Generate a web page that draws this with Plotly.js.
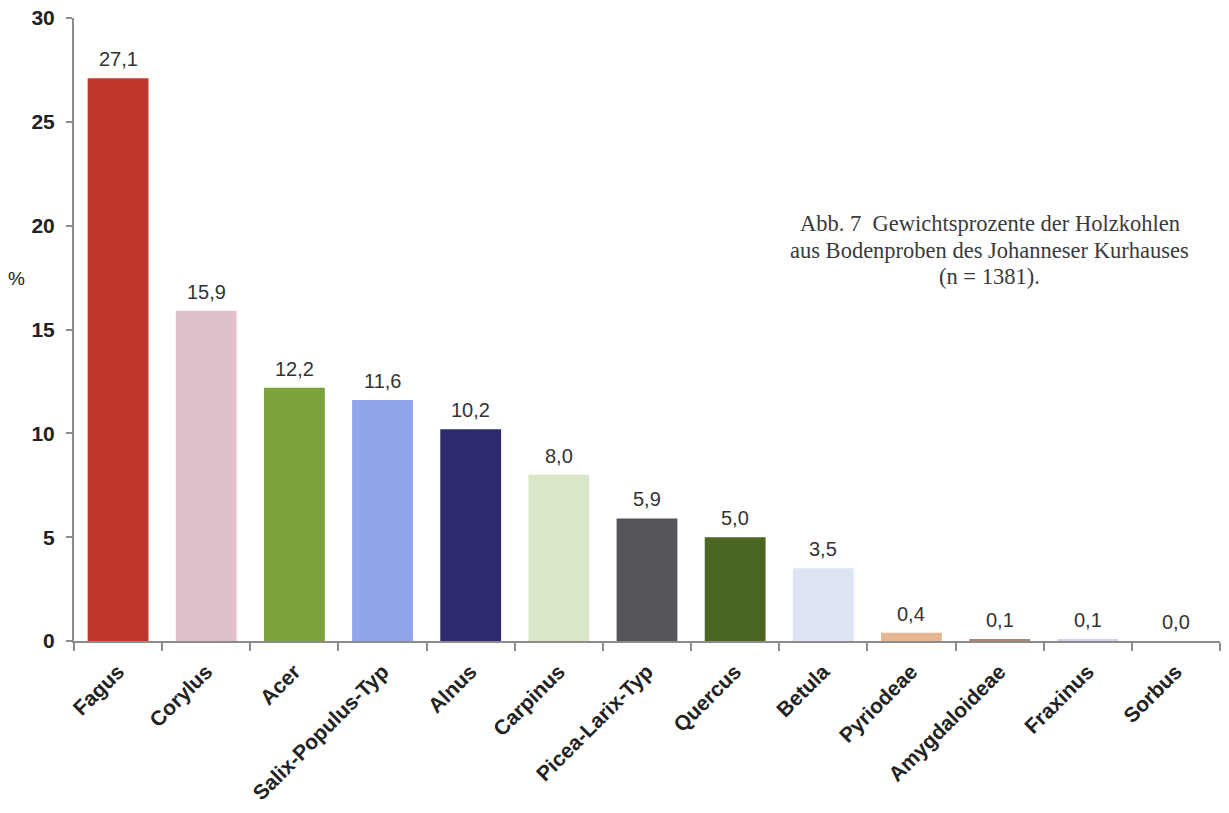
<!DOCTYPE html>
<html>
<head>
<meta charset="utf-8">
<script src="https://cdn.plot.ly/plotly-3.0.1.min.js"></script>
<style>
  html, body { margin: 0; padding: 0; background: #ffffff; }
  #chart { width: 1229px; height: 813px; }
</style>
</head>
<body>
<div id="chart"></div>
<script>
// Holzkohlen: Gewichtsprozente je Taxon
const taxa = ["Fagus", "Corylus", "Acer", "Salix-Populus-Typ", "Alnus", "Carpinus",
              "Picea-Larix-Typ", "Quercus", "Betula", "Pyriodeae", "Amygdaloideae",
              "Fraxinus", "Sorbus"];
const percent = [27.1, 15.9, 12.2, 11.6, 10.2, 8.0, 5.9, 5.0, 3.5, 0.4, 0.1, 0.1, 0.0];
const barColors = ["#c0382b", "#dfc1cc", "#7ca23b", "#91a4ea", "#2b2b6d", "#d9e7c9",
                   "#575459", "#4b6621", "#dde4f6", "#e8b78f", "#b3826c", "#cfd6e8", "#4c5670"];
const yTicks = [0, 5, 10, 15, 20, 25, 30];
const captionLines = ["Abb. 7  Gewichtsprozente der Holzkohlen",
                      "aus Bodenproben des Johanneser Kurhauses",
                      "(n = 1381)."];

const axisGray = "#8c8c8c";
const sans = "Liberation Sans, Arial, sans-serif";
const serif = "Liberation Serif, Times New Roman, serif";

const trace = {
  type: "bar",
  x: taxa,
  y: percent,
  marker: { color: barColors, line: { width: 0 } },
  hoverinfo: "x+y"
};

// value labels above each bar, German decimal comma
const valueLabels = taxa.map((t, i) => ({
  x: t,
  y: percent[i],
  xref: "x", yref: "y",
  text: percent[i].toFixed(1).replace(".", ","),
  showarrow: false,
  xanchor: "center", yanchor: "bottom",
  yshift: 6,
  font: { family: sans, size: 20, color: "#333333" }
}));

// caption block, one annotation per line for even spacing
const captionTop = 0.6695;
const captionStep = 0.0425;
const caption = captionLines.map((line, i) => ({
  text: line,
  xref: "paper", yref: "paper",
  x: 0.799, y: captionTop - i * captionStep,
  xanchor: "center", yanchor: "middle",
  showarrow: false,
  font: { family: serif, size: 22.5, color: "#3a3a3a" }
}));

const layout = {
  width: 1229,
  height: 813,
  paper_bgcolor: "#ffffff",
  plot_bgcolor: "#ffffff",
  margin: { l: 74, r: 9, t: 18, b: 172 },
  bargap: 0.31,
  showlegend: false,
  xaxis: {
    type: "category",
    showgrid: false,
    zeroline: false,
    showline: true,
    linecolor: axisGray,
    linewidth: 2,
    ticks: "outside",
    tickson: "boundaries",
    ticklen: 8,
    tickwidth: 2,
    tickcolor: axisGray,
    tickangle: -45,
    ticklabelstandoff: 8,
    tickfont: { family: sans, size: 21, color: "#222222", weight: "bold" }
  },
  yaxis: {
    range: [0, 30],
    tickvals: yTicks,
    ticktext: yTicks.map(String),
    showgrid: false,
    zeroline: false,
    showline: true,
    linecolor: axisGray,
    linewidth: 2,
    ticks: "outside",
    ticklen: 6,
    tickwidth: 2,
    tickcolor: axisGray,
    ticklabelstandoff: 7,
    tickfont: { family: sans, size: 21, color: "#222222", weight: "bold" }
  },
  annotations: valueLabels.concat(caption, [
    {
      text: "%",
      xref: "paper", yref: "paper",
      x: -0.05, y: 0.582,
      xanchor: "center", yanchor: "middle",
      showarrow: false,
      font: { family: sans, size: 19, color: "#222222" }
    }
  ])
};

Plotly.newPlot("chart", [trace], layout, { displayModeBar: false, staticPlot: true });
</script>
</body>
</html>
